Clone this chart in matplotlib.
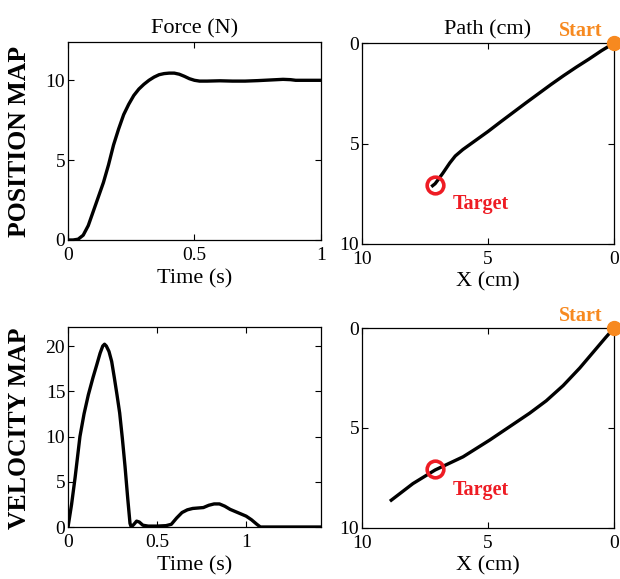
import matplotlib
matplotlib.use("Agg")
import matplotlib.pyplot as plt

# --- Data ---
# position map: force over time
pos_t = [0.0, 0.02, 0.04, 0.06, 0.08, 0.10, 0.12, 0.14, 0.16, 0.18, 0.20, 0.22,
         0.24, 0.26, 0.28, 0.30, 0.32, 0.34, 0.36, 0.38, 0.40, 0.42, 0.44, 0.46,
         0.48, 0.50, 0.52, 0.55, 0.60, 0.65, 0.70, 0.75, 0.80, 0.85, 0.88, 0.90, 1.0]
pos_force = [0.0, 0.0, 0.05, 0.3, 0.9, 1.8, 2.7, 3.6, 4.7, 5.95, 6.95, 7.85,
             8.5, 9.05, 9.45, 9.75, 10.0, 10.2, 10.35, 10.42, 10.45, 10.45, 10.38, 10.25,
             10.1, 10.0, 9.95, 9.95, 9.97, 9.95, 9.95, 9.98, 10.02, 10.06, 10.04, 10.0, 10.0]
# position map: hand path
pos_path_x = [0.0, 0.5, 1.0, 1.5, 2.0, 2.5, 3.0, 3.5, 4.0, 4.5, 5.0, 5.5,
              6.0, 6.3, 6.52, 6.79, 6.98, 7.1, 7.2]
pos_path_y = [0.0, 0.38, 0.8, 1.2, 1.62, 2.06, 2.52, 2.98, 3.45, 3.92, 4.4, 4.85,
              5.3, 5.62, 5.97, 6.47, 6.8, 7.0, 7.1]

# velocity map: force over time
vel_t = [0.0, 0.02, 0.04, 0.067, 0.09, 0.114, 0.14, 0.161, 0.18, 0.195, 0.205, 0.215,
         0.23, 0.245, 0.26, 0.275, 0.29, 0.305, 0.32, 0.335, 0.348, 0.355, 0.37, 0.385,
         0.40, 0.42, 0.45, 0.50, 0.55, 0.58, 0.61, 0.64, 0.67, 0.70, 0.73, 0.76,
         0.79, 0.82, 0.85, 0.88, 0.91, 0.94, 0.97, 1.0, 1.03, 1.06, 1.08, 1.42]
vel_force = [0.0, 2.5, 5.5, 10.0, 12.5, 14.6, 16.5, 17.9, 19.2, 20.0, 20.2, 20.0,
             19.4, 18.3, 16.5, 14.6, 12.6, 9.8, 6.7, 3.2, 0.4, 0.0, 0.3, 0.65,
             0.55, 0.2, 0.1, 0.1, 0.15, 0.3, 1.0, 1.6, 1.9, 2.05, 2.1, 2.15,
             2.4, 2.55, 2.55, 2.3, 1.95, 1.7, 1.45, 1.2, 0.8, 0.3, 0.0, 0.0]
# velocity map: hand path
vel_path_x = [0.0, 0.35, 0.7, 1.36, 2.02, 2.69, 3.35, 4.14, 4.93, 5.99, 7.1, 7.98, 8.84]
vel_path_y = [0.0, 0.5, 1.02, 2.0, 2.88, 3.64, 4.26, 4.93, 5.6, 6.44, 7.1, 7.78, 8.61]

start_xy = (0.0, 0.0)
target_xy = (7.1, 7.05)

row_labels = ["POSITION MAP", "VELOCITY MAP"]
col_titles = ["Force (N)", "Path (cm)"]

ORANGE = "#f7891f"
RED = "#ee1c24"

plt.rcParams["font.family"] = ["Liberation Serif", "DejaVu Serif"]

fig = plt.figure(figsize=(6.2, 5.79), dpi=100)

ax_fp = fig.add_axes([0.1097, 0.5855, 0.408, 0.342])
ax_pp = fig.add_axes([0.5839, 0.5786, 0.4065, 0.347])
ax_fv = fig.add_axes([0.1097, 0.0898, 0.408, 0.3454])
ax_pv = fig.add_axes([0.5839, 0.0881, 0.4065, 0.3454])


def style(ax):
    ax.tick_params(direction="in", top=True, right=True, length=4, width=0.8,
                   labelsize=14, colors="black")
    ax.tick_params(axis="x", pad=5)
    ax.tick_params(axis="y", pad=2)
    for s in ax.spines.values():
        s.set_linewidth(0.9)


# force panels
ax_fp.plot(pos_t, pos_force, color="black", lw=2.4)
ax_fp.set_xlim(0, 1)
ax_fp.set_ylim(0, 12.4)
ax_fp.set_xticks([0, 0.5, 1])
ax_fp.set_xticklabels(["0", "0.5", "1"])
ax_fp.set_yticks([0, 5, 10])

ax_fv.plot(vel_t, vel_force, color="black", lw=2.4)
ax_fv.set_xlim(0, 1.42)
ax_fv.set_ylim(0, 22.1)
ax_fv.set_xticks([0, 0.5, 1])
ax_fv.set_xticklabels(["0", "0.5", "1"])
ax_fv.set_yticks([0, 5, 10, 15, 20])

for ax in (ax_fp, ax_fv):
    ax.set_xlabel("Time (s)", fontsize=16, labelpad=4)
    style(ax)

# path panels
for ax, px, py, ty in ((ax_pp, pos_path_x, pos_path_y, 8.0),
                       (ax_pv, vel_path_x, vel_path_y, 8.1)):
    ax.plot(px, py, color="black", lw=2.4)
    ax.plot(*start_xy, "o", color=ORANGE, ms=10, clip_on=False, zorder=5)
    ax.plot(*target_xy, "o", mfc="none", mec=RED, mew=2.6, ms=12, zorder=5)
    ax.text(0.44, -0.62, "Start", color=ORANGE, fontsize=14.5, fontweight="bold",
            ha="right", va="center", clip_on=False)
    ax.text(5.28, ty, "Target", color=RED, fontsize=14.5, fontweight="bold",
            ha="center", va="center")
    ax.set_xlim(10, 0)
    ax.set_ylim(10, 0)
    ax.set_xticks([10, 5, 0])
    ax.set_yticks([0, 5, 10])
    ax.set_xlabel("X (cm)", fontsize=16, labelpad=3)
    style(ax)

ax_fp.set_title(col_titles[0], fontsize=16, pad=6)
ax_pp.set_title(col_titles[1], fontsize=16, pad=6)

fig.text(0.031, 0.756, row_labels[0], rotation=90, fontsize=18.5, fontweight="bold",
         ha="center", va="center")
fig.text(0.031, 0.261, row_labels[1], rotation=90, fontsize=18.5, fontweight="bold",
         ha="center", va="center")

fig.savefig("out.png", dpi=100)
